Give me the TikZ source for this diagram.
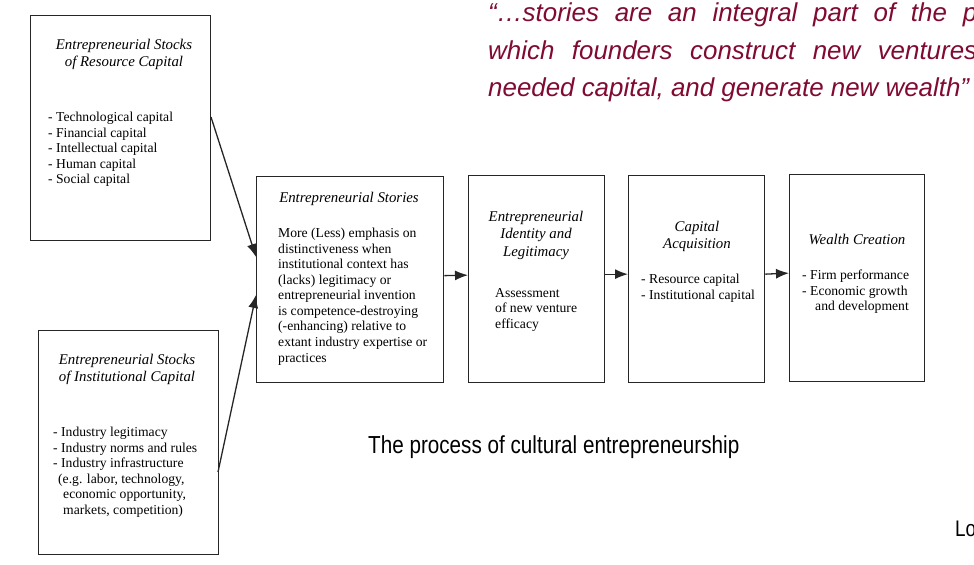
\documentclass[tikz,border=0pt]{standalone}
\usepackage{fontspec}
\usepackage{tikz}
\usetikzlibrary{arrows.meta,calc}
\setmainfont{Liberation Serif}
\newfontfamily\quotefont{Liberation Sans}
\newfontfamily\capfont[FakeStretch=0.84]{Liberation Sans}
\definecolor{quotered}{RGB}{128,10,48}
\tikzset{node distance=2.0cm, auto}
\tikzset{
  stagebox/.style={draw=black!85, line width=1.3bp, inner sep=0pt, anchor=north west},
  ttl/.style={font=\fontsize{14.9}{17.5}\selectfont\itshape, align=center, inner sep=0pt, anchor=north},
  body/.style={font=\fontsize{13.7}{15.6}\selectfont, align=left, inner sep=0pt, anchor=north west},
  quoteline/.style={font=\fontsize{26}{37.5}\selectfont\quotefont\itshape, text=quotered, inner sep=0pt, anchor=base west},
  flow/.style={-{Latex[length=13bp,width=10bp]}, line width=1.3bp, draw=black!85}
}

\begin{document}
\begin{tikzpicture}[
  x=1bp, y=-1bp
]
\useasboundingbox (0,0) rectangle (974,565);
\clip (0,0) rectangle (974,565);

\node[stagebox, minimum width=180bp, minimum height=225bp] (resbox) at (30,15) {};
\node[stagebox, minimum width=180bp, minimum height=224bp] (instbox) at (38,330) {};
\node[stagebox, minimum width=187bp, minimum height=206bp] (storybox) at (256,176) {};
\node[stagebox, minimum width=136bp, minimum height=207bp] (idbox) at (468,175) {};
\node[stagebox, minimum width=136bp, minimum height=207bp] (capbox) at (628,175) {};
\node[stagebox, minimum width=135bp, minimum height=207bp] (wealthbox) at (789,174) {};

\node[ttl] (restitle) at (124,39) {Entrepreneurial Stocks\\of Resource Capital};
\node[body] (reslist) at (48,112) {- Technological capital\\- Financial capital\\- Intellectual capital\\- Human capital\\- Social capital};

\node[ttl] (insttitle) at (127,354) {Entrepreneurial Stocks\\of Institutional Capital};
\node[body] (instlist) at (53,427) {- Industry legitimacy\\- Industry norms and rules\\- Industry infrastructure\\
  \hspace*{5bp}(e.g. labor, technology,\\\hspace*{10bp}economic opportunity,\\\hspace*{10bp}markets, competition)};

\node[ttl] (storytitle) at (349,192) {Entrepreneurial Stories};
\node[body] (storytext) at (278,228) {More (Less) emphasis on\\distinctiveness when\\institutional context has\\(lacks) legitimacy or\\
  entrepreneurial invention\\is competence-destroying\\(-enhancing) relative to\\extant industry expertise or\\practices};

\node[ttl] (idtitle) at (536,211) {Entrepreneurial\\Identity and\\Legitimacy};
\node[body] (idtext) at (495,288) {Assessment\\of new venture\\efficacy};

\node[ttl] (captitle) at (697,221) {Capital\\Acquisition};
\node[body] (captext) at (641,274) {- Resource capital\\- Institutional capital};

\node[ttl] (wealthtitle) at (857,234) {Wealth Creation};
\node[body] (wealthtext) at (802,270) {- Firm performance\\- Economic growth\\\hspace*{13bp}and development};

\coordinate (resout) at (211,117);
\coordinate (instout) at (218,472);
\coordinate (storyinA) at (256,257);
\coordinate (storyinB) at (256,295);
\draw[flow] (resout) -- (storyinA);
\draw[flow] (instout) -- (storyinB);
\draw[flow] ([yshift=4bp]storybox.east) -- ([yshift=4bp]idbox.west);
\draw[flow] ([yshift=5bp]idbox.east) -- ([yshift=5bp]capbox.west);
\draw[flow] ([yshift=5bp]capbox.east) -- ([yshift=5bp]wealthbox.west);

\node[quoteline] (quoteA) at (488,22) {\makebox[489bp][s]{“…stories are an integral part of the p}};
\node[quoteline] (quoteB) at (488,60) {\makebox[489bp][s]{which founders construct new ventures}};
\node[quoteline] (quoteC) at (488,97) {needed capital, and generate new wealth”};

\node[font=\fontsize{24.7}{28}\selectfont\capfont, inner sep=0pt, anchor=base west] (caption) at (368,453) {The process of cultural entrepreneurship};
\node[font=\fontsize{22.6}{26}\selectfont\capfont, inner sep=0pt, anchor=base west] (author) at (955,536) {Lo};
\end{tikzpicture}
\end{document}
